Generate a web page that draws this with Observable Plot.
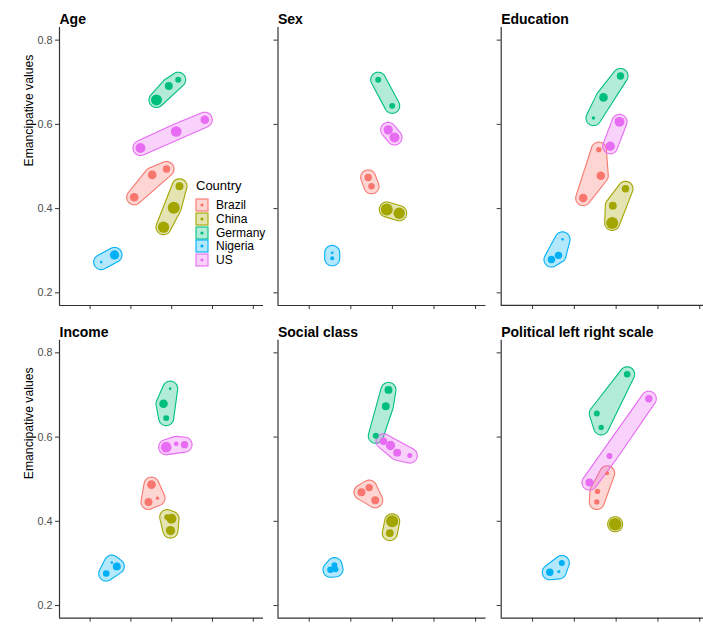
<!DOCTYPE html>
<html>
<head>
<meta charset="utf-8">
<script src="https://cdn.jsdelivr.net/npm/d3@7"></script>
<script src="https://cdn.jsdelivr.net/npm/@observablehq/plot@0.6"></script>
<style>
  html, body { margin: 0; padding: 0; background: #fff; overflow: hidden; }
  #chart { position: relative; width: 703px; height: 625px; overflow: hidden; font-family: "Liberation Sans", Arial, sans-serif; }
  #chart > svg, #chart > figure { position: absolute; }
  .legend { position: absolute; left: 195px; top: 178px; z-index: 5; }
  .legend .ttl { font-size: 13px; color: #000; margin: 0 0 4px 1px; line-height: 16px; }
  .legend .row { display: flex; align-items: center; height: 13.8px; }
  .legend .lab { font-size: 12px; margin-left: 7px; color: #000; }
</style>
</head>
<body>
<div id="chart"></div>
<script>
// ---------- data ----------
const countries = ["Brazil", "China", "Germany", "Nigeria", "US"];
const colors = ["#F8766D", "#A3A500", "#00BF7D", "#00B0F6", "#E76BF3"];
const panelTitles = ["Age", "Sex", "Education", "Income", "Social class", "Political left right scale"];
const yTicks = [0.2, 0.4, 0.6, 0.8];
const xTicks = [1, 2, 3, 4, 5];
const yLabel = "Emancipative values";
const legendTitle = "Country";

// [country, x, emancipative value, group share]
const age = [
  ["Brazil", 2.081, 0.427, 19], ["Brazil", 2.522, 0.480, 19], ["Brazil", 2.873, 0.494, 14],
  ["China", 2.799, 0.356, 33], ["China", 3.051, 0.402, 37], ["China", 3.191, 0.453, 16],
  ["Germany", 2.627, 0.658, 31], ["Germany", 2.929, 0.691, 16], ["Germany", 3.159, 0.706, 9],
  ["Nigeria", 1.272, 0.273, 1.7], ["Nigeria", 1.598, 0.290, 22],
  ["US", 2.235, 0.544, 25], ["US", 3.110, 0.583, 29], ["US", 3.811, 0.611, 19]
];
const sex = [
  ["Brazil", 2.418, 0.474, 14], ["Brazil", 2.498, 0.453, 11],
  ["China", 2.865, 0.398, 37], ["China", 3.163, 0.389, 33],
  ["Germany", 2.659, 0.706, 9], ["Germany", 2.995, 0.644, 9],
  ["Nigeria", 1.553, 0.295, 1.7], ["Nigeria", 1.553, 0.282, 4],
  ["US", 2.899, 0.587, 22], ["US", 3.050, 0.569, 25]
];
const education = [
  ["Brazil", 2.212, 0.425, 19], ["Brazil", 2.633, 0.478, 19], ["Brazil", 2.585, 0.540, 7.4],
  ["China", 2.906, 0.366, 37], ["China", 2.920, 0.407, 16], ["China", 3.224, 0.447, 14],
  ["Germany", 2.458, 0.615, 3], ["Germany", 2.697, 0.664, 19], ["Germany", 3.104, 0.715, 14],
  ["Nigeria", 1.453, 0.279, 14], ["Nigeria", 1.621, 0.289, 14], ["Nigeria", 1.717, 0.327, 1.7],
  ["US", 2.858, 0.548, 22], ["US", 3.080, 0.606, 25]
];
const income = [
  ["Brazil", 2.505, 0.487, 19], ["Brazil", 2.431, 0.446, 16], ["Brazil", 2.652, 0.455, 3],
  ["China", 2.995, 0.406, 25], ["China", 2.970, 0.378, 22], ["China", 2.890, 0.410, 9],
  ["Germany", 2.799, 0.679, 19], ["Germany", 2.865, 0.645, 9], ["Germany", 2.963, 0.715, 1.7],
  ["Nigeria", 1.395, 0.276, 11], ["Nigeria", 1.654, 0.293, 16], ["Nigeria", 1.532, 0.302, 1.7],
  ["US", 2.865, 0.576, 29], ["US", 3.110, 0.584, 5.4], ["US", 3.314, 0.582, 14]
];
const socialClass = [
  ["Brazil", 2.257, 0.469, 16], ["Brazil", 2.442, 0.480, 14], ["Brazil", 2.587, 0.450, 16],
  ["China", 2.995, 0.400, 37], ["China", 2.938, 0.372, 16],
  ["Germany", 2.906, 0.712, 16], ["Germany", 2.841, 0.673, 16], ["Germany", 2.601, 0.603, 9],
  ["Nigeria", 1.512, 0.285, 11], ["Nigeria", 1.608, 0.296, 9], ["Nigeria", 1.632, 0.286, 9],
  ["US", 2.786, 0.590, 14], ["US", 2.954, 0.580, 22], ["US", 3.115, 0.563, 16], ["US", 3.418, 0.556, 6.4]
];
const political = [
  ["Brazil", 2.786, 0.514, 4], ["Brazil", 2.554, 0.471, 7.4], ["Brazil", 2.537, 0.446, 7.4],
  ["China", 2.977, 0.393, 40],
  ["Germany", 3.264, 0.749, 11], ["Germany", 2.537, 0.656, 9], ["Germany", 2.642, 0.623, 7.4],
  ["Nigeria", 1.413, 0.279, 14], ["Nigeria", 1.628, 0.281, 2.3], ["Nigeria", 1.700, 0.301, 9],
  ["US", 3.781, 0.691, 14], ["US", 2.841, 0.555, 9], ["US", 2.362, 0.492, 16]
];
const panels = [age, sex, education, income, socialClass, political];

// ---------- layout ----------
const xDomain = [0.25, 5.25];
const yDomain = [0.17, 0.83];
const frameH = 278;
const cols = [{left: 0, ml: 59, W: 204, mr: 4}, {left: 267, ml: 10.5, W: 208, mr: 4}, {left: 490, ml: 10.7, W: 209, mr: 0}];
const rowsL = [{top: 0, mt: 27}, {top: 313, mt: 26.7}];
const EXPAND = 7.5; // hull expansion (px)
const font = "'Liberation Sans', Arial, sans-serif";

function hullOf(rows, country, kx, ky) {
  const pts = rows.filter(d => d[0] === country);
  const cloud = [];
  for (const d of pts) {
    for (let i = 0; i < 64; i++) {
      const a = 2 * Math.PI * i / 64;
      cloud.push([d[1] + EXPAND * Math.cos(a) / kx, d[2] + EXPAND * Math.sin(a) / ky]);
    }
  }
  return (d3.polygonHull(cloud) || []).map(([x, y]) => ({x, y}));
}

const chart = document.getElementById("chart");

panels.forEach((rows, i) => {
  const c = cols[i % 3], r = rowsL[Math.floor(i / 3)];
  const kx = c.W / (xDomain[1] - xDomain[0]);
  const ky = frameH / (yDomain[1] - yDomain[0]);
  const dots = rows.map(([country, x, y, n]) => ({country, x, y, n}));
  const hullMarks = countries.map((ct, k) =>
    Plot.line(hullOf(rows, ct, kx, ky), {
      x: "x", y: "y", curve: "linear-closed",
      stroke: colors[k], strokeWidth: 1.1, fill: colors[k], fillOpacity: 0.3
    })
  );
  const marks = [
    ...hullMarks,
    Plot.dot(dots, {x: "x", y: "y", r: "n", fill: "country", stroke: null}),
    Plot.ruleX([xDomain[0]], {stroke: "#333", strokeWidth: 1.2}),
    Plot.ruleY([yDomain[0]], {stroke: "#333", strokeWidth: 1.2}),
    Plot.axisY({ticks: yTicks, tickSize: 4, tickPadding: 3, label: null,
      tickFormat: i % 3 === 0 ? d => d.toFixed(1) : () => "",
      fontSize: 10.8, fill: "#4d4d4d", stroke: "#333"}),
    Plot.axisX({ticks: xTicks, tickSize: 4, label: null, tickFormat: () => "", stroke: "#333"}),
    Plot.text([panelTitles[i]], {text: d => d, frameAnchor: "top-left", dy: -13.5,
      textAnchor: "start", fontWeight: "bold", fontSize: 14, fill: "#000"})
  ];
  if (i % 3 === 0) {
    marks.push(Plot.text([yLabel], {text: d => d, frameAnchor: "left", dx: -30, rotate: -90,
      fontSize: 12.2, fill: "#000"}));
  }
  const svg = Plot.plot({
    width: c.ml + c.W + c.mr,
    height: r.mt + frameH + 8,
    marginLeft: c.ml, marginRight: c.mr, marginTop: r.mt, marginBottom: 8,
    x: {domain: xDomain, axis: null},
    y: {domain: yDomain, axis: null},
    r: {type: "sqrt", domain: [0, 50], range: [0, 7]},
    color: {domain: countries, range: colors},
    style: {fontFamily: font, background: "transparent", overflow: "visible"},
    marks
  });
  svg.style.left = c.left + "px";
  svg.style.top = r.top + "px";
  chart.appendChild(svg);
});

// ---------- legend ----------
const legend = document.createElement("div");
legend.className = "legend";
legend.innerHTML = `<div class="ttl">${legendTitle}</div>` + countries.map((ct, k) => {
  const col = colors[k];
  return `<div class="row"><svg width="14" height="14" style="display:block">
    <rect x="1" y="1" width="12" height="12" fill="${col}" fill-opacity="0.3" stroke="${col}" stroke-width="1.1"></rect>
    <circle cx="7" cy="7" r="1.6" fill="${col}"></circle></svg><span class="lab">${ct}</span></div>`;
}).join("");
chart.appendChild(legend);
</script>
</body>
</html>
